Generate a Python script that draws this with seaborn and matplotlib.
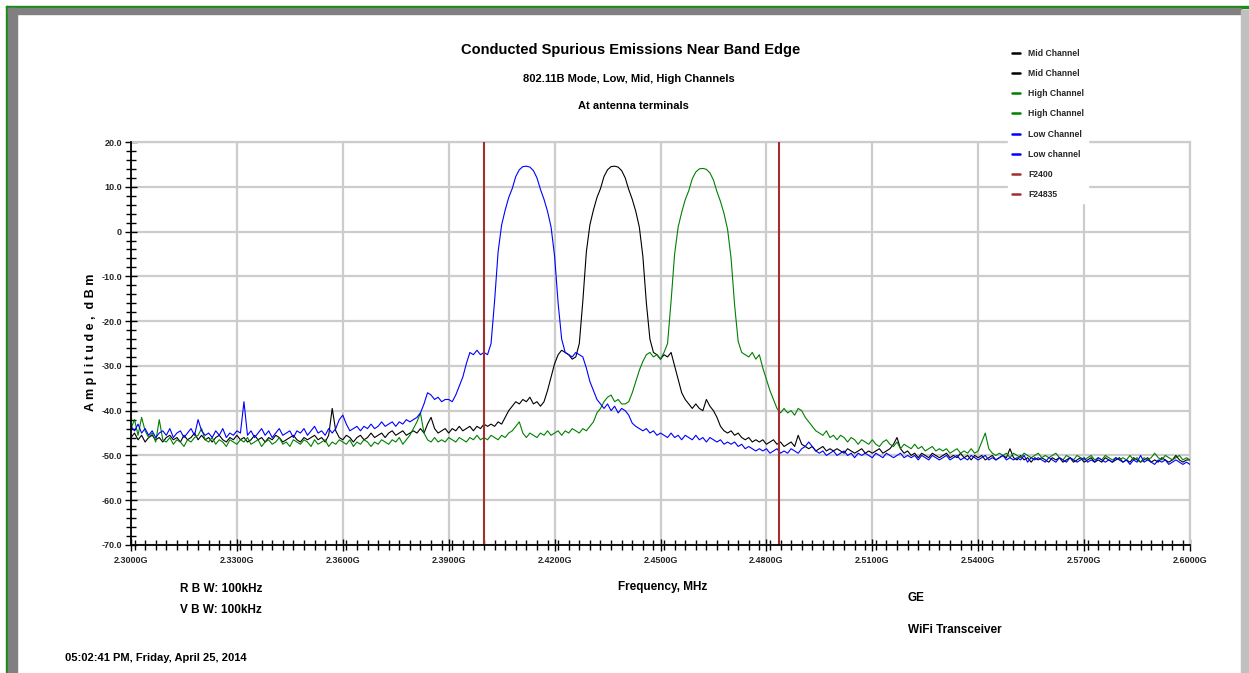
import numpy as np
import pandas as pd
import matplotlib
matplotlib.use("Agg")
import matplotlib.pyplot as plt
from matplotlib import font_manager
from matplotlib.patches import Rectangle
from matplotlib.lines import Line2D
from matplotlib.ticker import MultipleLocator, FixedLocator
import seaborn as sns

# ---------------- data ----------------
F_START, F_STOP, N_POINTS = 2.300, 2.600, 301   # GHz sweep, 1 MHz steps
freq = np.linspace(F_START, F_STOP, N_POINTS)

low_channel = [
    -43.5, -44.5, -43.0, -45.0, -44.0, -45.5, -44.5, -46.0, -45.0, -44.5,
    -45.5, -44.0, -46.0, -45.0, -44.5, -46.0, -45.0, -44.0, -45.5, -42.0,
    -44.5, -45.5, -45.0, -46.0, -44.5, -45.5, -44.0, -46.0, -45.0, -45.5,
    -44.5, -45.0, -38.0, -45.5, -44.5, -46.0, -45.0, -44.0, -45.5, -44.5,
    -46.0, -45.0, -44.0, -45.5, -45.0, -44.5, -46.0, -44.5, -45.0, -44.0,
    -45.5, -44.5, -43.5, -45.0, -44.5, -45.5, -44.0, -45.0, -44.0, -42.0,
    -41.0, -43.0, -44.5, -44.0, -43.5, -44.5, -43.5, -44.0, -43.0, -44.0,
    -43.5, -42.5, -43.5, -43.0, -42.5, -43.5, -42.5, -43.0, -42.0, -42.5,
    -42.0, -41.5, -40.5, -38.5, -36.0, -36.5, -37.5, -37.0, -38.0, -37.5,
    -37.5, -38.0, -36.5, -34.5, -32.5, -29.5, -27.0, -27.5, -26.5, -27.5,
    -27.0, -27.5, -25.0, -15.5, -4.5, 1.5, 4.8, 7.6, 9.6, 12.3,
    13.8, 14.5, 14.6, 14.4, 13.6, 12.0, 9.4, 7.2, 4.5, 1.0,
    -5.5, -16.0, -24.0, -27.0, -27.5, -28.0, -27.0, -27.5, -28.0, -30.5,
    -33.5, -35.5, -37.5, -38.5, -39.5, -38.5, -40.0, -39.0, -40.5, -39.5,
    -40.0, -41.0, -42.8, -43.5, -44.0, -44.5, -44.0, -45.0, -44.5, -45.5,
    -45.0, -45.5, -46.0, -45.0, -46.0, -45.5, -46.5, -45.5, -46.0, -46.5,
    -45.5, -46.5, -46.0, -47.0, -46.0, -46.5, -47.0, -46.5, -47.5, -47.0,
    -47.5, -47.0, -48.0, -47.5, -48.5, -48.0, -48.5, -49.0, -48.5, -49.0,
    -48.5, -49.5, -49.0, -48.5, -49.5, -49.0, -49.5, -48.5, -49.0, -49.5,
    -48.5, -48.0, -47.0, -48.0, -49.0, -49.5, -49.0, -50.0, -49.5, -49.0,
    -50.0, -49.5, -49.0, -50.0, -49.5, -50.5, -49.5, -50.0, -49.5, -50.0,
    -50.5, -49.5, -50.0, -50.5, -49.5, -50.0, -50.5, -50.0, -49.5, -50.5,
    -50.0, -50.5, -50.0, -51.0, -50.0, -50.5, -51.0, -50.0, -50.5, -51.0,
    -50.5, -50.0, -51.0, -50.5, -50.0, -51.0, -50.5, -51.0, -50.0, -50.5,
    -51.0, -50.5, -50.0, -51.0, -50.5, -51.0, -50.5, -50.0, -51.0, -50.5,
    -51.0, -50.5, -51.0, -50.0, -51.5, -50.5, -51.0, -50.5, -51.0, -51.5,
    -50.5, -51.0, -51.5, -50.5, -51.0, -51.5, -50.5, -51.0, -51.5, -51.0,
    -50.5, -51.5, -51.0, -51.5, -50.5, -51.0, -51.5, -51.0, -51.5, -50.5,
    -51.0, -51.5, -51.0, -52.0, -51.0, -51.5, -50.0, -51.5, -51.0, -51.5,
    -52.0, -51.0, -51.5, -51.0, -52.0, -51.5, -51.0, -51.5, -52.0, -51.5,
    -52.0,
]

mid_channel = [
    -46.0, -45.0, -46.5, -45.5, -47.0, -46.0, -45.5, -46.5, -46.0, -47.0,
    -46.0, -45.5, -46.5, -46.0, -47.0, -45.5, -46.5, -46.0, -45.0, -46.5,
    -45.5, -46.5, -46.0, -47.0, -46.0, -45.5, -46.5, -47.0, -46.0, -46.5,
    -45.5, -46.5, -46.0, -47.0, -46.5, -45.5, -46.5, -46.0, -47.0, -46.0,
    -46.5, -45.5, -46.0, -47.0, -46.5, -46.0, -45.5, -46.5, -47.0, -46.0,
    -46.5, -46.0, -45.5, -46.5, -46.0, -47.0, -45.5, -39.5, -44.5, -46.0,
    -46.5, -45.5, -46.0, -47.0, -46.0, -45.5, -46.5, -46.0, -45.0, -46.0,
    -45.5, -45.0, -46.0, -45.0, -44.5, -45.5, -45.0, -44.5, -45.5, -45.0,
    -44.5, -45.0, -44.0, -45.0, -43.0, -41.5, -44.0, -45.0, -44.5, -44.0,
    -45.0, -44.0, -44.5, -43.5, -44.5, -44.0, -43.5, -44.5, -43.5, -44.0,
    -43.0, -43.5, -43.0, -43.5, -42.5, -43.0, -41.5, -40.0, -39.0, -38.0,
    -38.5, -37.5, -38.0, -37.0, -38.5, -38.0, -39.0, -38.0, -35.5, -32.5,
    -29.5, -27.5, -26.5, -27.0, -27.5, -28.5, -28.0, -25.0, -15.5, -4.5,
    1.5, 4.8, 7.6, 9.6, 12.3, 13.8, 14.5, 14.6, 14.4, 13.6,
    12.0, 9.4, 7.2, 4.5, 1.0, -5.5, -16.0, -24.0, -27.0, -27.5,
    -28.5, -27.5, -28.0, -27.0, -30.0, -33.0, -36.0, -37.5, -38.5, -39.5,
    -38.5, -39.5, -40.0, -37.5, -39.0, -40.0, -41.5, -43.5, -44.5, -45.0,
    -44.5, -45.5, -45.0, -46.0, -46.5, -46.0, -47.0, -46.5, -47.0, -46.5,
    -47.5, -47.0, -46.5, -47.5, -47.0, -48.0, -47.5, -47.0, -48.0, -45.5,
    -47.5, -48.0, -48.5, -48.0, -49.0, -48.5, -48.0, -49.0, -48.5, -49.0,
    -48.5, -49.0, -49.5, -48.5, -49.0, -49.5, -49.0, -48.5, -49.5, -49.0,
    -49.5, -49.0, -48.5, -49.5, -49.0, -48.5, -47.5, -46.0, -48.5, -49.5,
    -49.0, -50.0, -49.5, -50.5, -49.5, -50.0, -50.5, -49.5, -50.0, -50.5,
    -50.0, -49.5, -50.5, -50.0, -50.5, -49.5, -50.5, -50.0, -51.0, -50.0,
    -50.5, -50.0, -51.0, -50.5, -50.0, -51.0, -50.5, -50.0, -50.5, -48.5,
    -50.5, -51.0, -50.0, -51.0, -50.5, -51.5, -50.5, -51.0, -50.5, -51.0,
    -51.5, -50.5, -51.0, -50.5, -51.5, -51.0, -50.5, -51.5, -51.0, -50.5,
    -51.5, -51.0, -50.5, -51.5, -51.0, -51.5, -50.5, -51.0, -51.5, -51.0,
    -50.5, -51.5, -51.0, -51.5, -50.5, -51.0, -51.5, -51.0, -50.5, -51.5,
    -51.0, -51.5, -50.5, -51.0, -51.5, -51.0, -50.0, -51.0, -51.5, -51.0,
    -51.0,
]

high_channel = [
    -44.0, -42.0, -45.5, -41.5, -44.5, -46.0, -45.0, -47.0, -42.0, -46.5,
    -47.0, -46.0, -47.5, -46.5, -47.0, -48.0, -46.5, -47.0, -46.0, -45.5,
    -44.0, -46.5, -47.0, -46.0, -47.5, -46.5, -47.0, -48.0, -46.5, -47.0,
    -47.5, -46.5, -47.0, -46.0, -47.5, -47.0, -46.5, -48.0, -47.0, -46.5,
    -47.5, -47.0, -46.0, -47.5, -47.0, -48.0, -46.5, -47.0, -47.5, -46.5,
    -47.0, -48.0, -46.5, -47.5, -47.0, -46.5, -48.0, -47.0, -47.5, -46.5,
    -47.0, -47.5, -46.5, -48.0, -47.0, -47.5, -46.5, -47.0, -48.0, -47.0,
    -47.5, -46.5, -47.0, -47.5, -46.5, -47.0, -46.0, -47.5, -46.5, -45.5,
    -44.0, -42.5, -40.5, -45.0, -46.5, -47.0, -46.0, -47.0, -46.5, -47.0,
    -46.0, -46.5, -47.0, -46.0, -46.5, -47.0, -46.0, -46.5, -45.5, -46.5,
    -46.0, -46.5, -45.5, -46.0, -46.5, -45.5, -46.0, -45.0, -44.5, -43.5,
    -42.5, -45.0, -46.0, -45.0, -45.5, -46.0, -45.0, -45.5, -44.5, -45.5,
    -45.0, -44.5, -45.5, -44.5, -45.0, -44.0, -44.5, -45.0, -44.0, -44.5,
    -43.5, -42.5, -40.5, -39.5, -38.0, -37.0, -36.5, -38.0, -37.5, -38.5,
    -38.5, -38.0, -36.0, -33.5, -31.0, -29.0, -27.5, -27.0, -28.0, -27.5,
    -28.5, -27.0, -25.0, -15.5, -5.0, 1.0, 4.3, 7.1, 9.1, 11.8,
    13.3, 14.0, 14.1, 13.9, 13.1, 11.5, 8.9, 6.7, 4.0, 0.5,
    -6.0, -16.5, -24.5, -27.0, -27.5, -28.0, -27.0, -28.5, -27.5, -30.5,
    -33.0, -35.5, -37.5, -39.5, -40.5, -39.5, -40.5, -40.0, -41.0, -39.5,
    -40.0, -41.5, -42.5, -43.5, -44.5, -45.0, -45.5, -44.5, -46.0, -45.5,
    -46.5, -45.5, -46.0, -47.0, -46.0, -46.5, -47.5, -46.5, -47.0, -47.5,
    -46.5, -47.5, -48.0, -47.0, -46.5, -47.5, -48.0, -47.0, -48.5, -47.5,
    -48.0, -48.5, -47.5, -48.5, -48.0, -49.0, -48.5, -48.0, -49.0, -48.5,
    -49.0, -48.5, -49.5, -49.0, -48.5, -49.5, -49.0, -49.5, -48.5, -49.5,
    -49.0, -47.0, -45.0, -48.5, -49.5, -50.0, -49.5, -50.0, -49.5, -50.5,
    -49.5, -50.0, -50.5, -49.5, -50.0, -50.5, -50.0, -49.5, -50.5, -50.0,
    -50.5, -50.0, -49.5, -50.5, -51.0, -50.0, -50.5, -51.0, -50.0, -50.5,
    -51.0, -50.5, -50.0, -51.0, -50.5, -51.0, -50.0, -50.5, -51.0, -50.5,
    -51.0, -50.5, -51.0, -50.0, -51.0, -50.5, -51.5, -50.5, -51.0, -50.5,
    -49.5, -50.5, -51.0, -50.0, -50.5, -51.0, -50.5, -50.0, -51.0, -50.5,
    -51.0,
]

band_edges = [2.400, 2.4835]          # F2400, F24835 markers (GHz)
edge_labels = ["F2400", "F24835"]
trace_names = ["Mid Channel", "High Channel", "Low Channel"]
legend_labels = ["Mid Channel", "Mid Channel", "High Channel", "High Channel",
                 "Low Channel", "Low channel", "F2400", "F24835"]

x_major = [2.30, 2.33, 2.36, 2.39, 2.42, 2.45, 2.48, 2.51, 2.54, 2.57, 2.60]
x_labels = ["2.3000G", "2.3300G", "2.3600G", "2.3900G", "2.4200G", "2.4500G",
            "2.4800G", "2.5100G", "2.5400G", "2.5700G", "2.6000G"]
y_major = [20, 10, 0, -10, -20, -30, -40, -50, -60, -70]
y_labels = ["20.0", "10.0", "0", "-10.0", "-20.0", "-30.0", "-40.0", "-50.0", "-60.0", "-70.0"]

# ---------------- style ----------------
sns.set_style("white")
names = {f.name for f in font_manager.fontManager.ttflist}
FAM = "Liberation Sans Narrow" if "Liberation Sans Narrow" in names else "Liberation Sans"
plt.rcParams["font.family"] = [FAM, "DejaVu Sans"]

colors = {"Mid Channel": "#000000", "High Channel": "#008000", "Low Channel": "#0000ff"}
edge_color = "#a32e2e"
grid_color = "#cccccc"

W, H = 1249, 673
fig = plt.figure(figsize=(W / 100, H / 100), dpi=100)
fig.patch.set_facecolor("white")

def fx(px):
    return px / W

def fy(py):
    return 1 - py / H

# window frame
fig.patches.append(Rectangle((fx(6), fy(673)), fx(2), 667 / H, transform=fig.transFigure,
                             color="#1a8a1a", zorder=0))
fig.patches.append(Rectangle((fx(6), fy(8)), fx(1243), 2 / H, transform=fig.transFigure,
                             color="#1a8a1a", zorder=0))
fig.patches.append(Rectangle((fx(8), fy(13.5)), fx(1233), 5.5 / H, transform=fig.transFigure,
                             color="#808080", zorder=0))
fig.patches.append(Rectangle((fx(8), fy(673)), fx(9.5), 665 / H, transform=fig.transFigure,
                             color="#808080", zorder=0))
fig.patches.append(Rectangle((fx(1241), fy(673)), fx(8), 663 / H, transform=fig.transFigure,
                             color="#c0c0c0", zorder=0))

ax = fig.add_axes([fx(131), fy(545), fx(1190 - 131), (545 - 142) / H])
ax.set_facecolor("white")

df = pd.DataFrame({
    "freq": np.concatenate([freq, freq, freq]),
    "dBm": np.concatenate([mid_channel, high_channel, low_channel]),
    "trace": np.repeat(trace_names, N_POINTS),
})
sns.lineplot(data=df, x="freq", y="dBm", hue="trace", hue_order=trace_names,
             palette=colors, estimator=None, sort=False, linewidth=0.8,
             legend=False, ax=ax, zorder=3)

for xe in band_edges:
    ax.axvline(xe, color=edge_color, lw=1.5, zorder=4)

ax.set_xlim(F_START, F_STOP)
ax.set_ylim(-70, 20)
ax.xaxis.set_major_locator(FixedLocator(x_major))
ax.set_xticklabels(x_labels)
ax.yaxis.set_major_locator(FixedLocator(y_major))
ax.set_yticklabels(y_labels)
ax.xaxis.set_minor_locator(MultipleLocator(0.003))
ax.yaxis.set_minor_locator(MultipleLocator(2))
ax.grid(True, which="major", color=grid_color, lw=1.6, zorder=0)
ax.set_axisbelow(True)
ax.set_xlabel("")
ax.set_ylabel("")
for s in ["left", "bottom"]:
    ax.spines[s].set_color("black")
    ax.spines[s].set_linewidth(1.3)
    ax.spines[s].set_zorder(5)
for s in ["top", "right"]:
    ax.spines[s].set_color(grid_color)
    ax.spines[s].set_linewidth(1.6)
ax.tick_params(which="major", direction="inout", length=9, width=1.0, color="black",
               labelsize=6.5, pad=2, bottom=True, left=True)
ax.tick_params(which="minor", direction="inout", length=7, width=1.0, color="black",
               bottom=True, left=True)
ax.tick_params(axis="x", which="major", pad=3.5)
for lbl in ax.get_xticklabels() + ax.get_yticklabels():
    lbl.set_fontweight("bold")

# legend
def proxy(c):
    return Line2D([], [], color=c, lw=1.8)
handles = [proxy(colors["Mid Channel"]), proxy(colors["Mid Channel"]),
           proxy(colors["High Channel"]), proxy(colors["High Channel"]),
           proxy(colors["Low Channel"]), proxy(colors["Low Channel"]),
           proxy(edge_color), proxy(edge_color)]
leg = fig.legend(handles, legend_labels, loc="upper left",
                 bbox_to_anchor=(fx(1004), fy(41)), frameon=True, framealpha=1,
                 facecolor="white", edgecolor="white", fancybox=False,
                 fontsize=6.2, handlelength=0.9, handletextpad=1.0,
                 labelspacing=1.3, borderpad=0.4)
for t in leg.get_texts():
    t.set_fontweight("bold")
leg.set_zorder(10)

# texts
bold = dict(fontweight="bold", color="black")
fig.text(fx(631), fy(50), "Conducted Spurious Emissions Near Band Edge",
         ha="center", va="center", fontsize=10.5, **bold)
fig.text(fx(629), fy(79), "802.11B Mode, Low, Mid, High Channels",
         ha="center", va="center", fontsize=8, **bold)
fig.text(fx(633), fy(106), "At antenna terminals",
         ha="center", va="center", fontsize=8, **bold)
fig.text(fx(91), fy(342), "A m p l i t u d e ,  d B m", rotation=90,
         ha="center", va="center", fontsize=9, **bold)
fig.text(fx(663), fy(587), "Frequency, MHz", ha="center", va="center", fontsize=8.5, **bold)
fig.text(fx(180), fy(589), "R B W: 100kHz", ha="left", va="center", fontsize=8.5, **bold)
fig.text(fx(180), fy(610), "V B W: 100kHz", ha="left", va="center", fontsize=8.5, **bold)
fig.text(fx(908), fy(598), "GE", ha="left", va="center", fontsize=8.5, **bold)
fig.text(fx(908), fy(630), "WiFi Transceiver", ha="left", va="center", fontsize=8.5, **bold)
fig.text(fx(65), fy(658), "05:02:41 PM, Friday, April 25, 2014", ha="left", va="center",
         fontsize=8, **bold)

fig.savefig("out.png", dpi=100, facecolor="white")
